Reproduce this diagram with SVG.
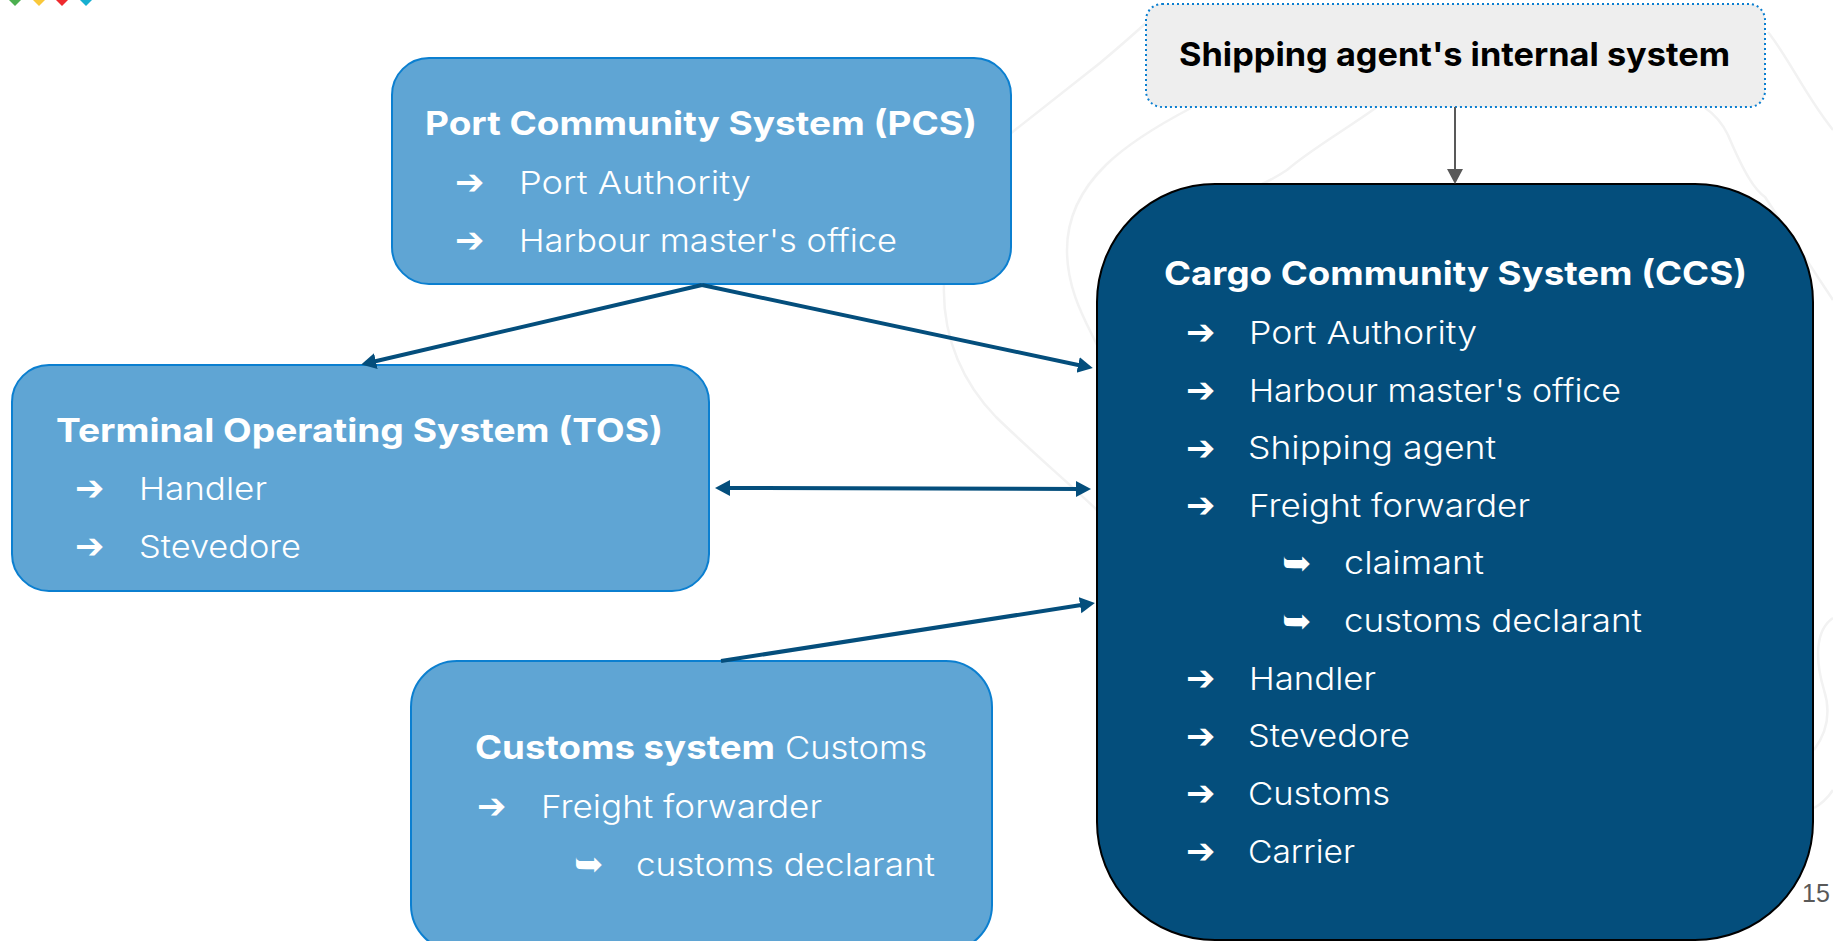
<svg xmlns="http://www.w3.org/2000/svg" width="1833" height="941" viewBox="0 0 1833 941">
<style>
text{font-family:"Inter","Open Sans","Liberation Sans",sans-serif;fill:#fff}
.t{font-size:33px;font-weight:700}
.i{font-size:31.500px;font-weight:300}
.a{font-family:"DejaVu Sans",sans-serif;font-size:35px}
.b{fill:#5fa5d4;stroke:#0b7fd0;stroke-width:2}
.sw{fill:none;stroke:#f2f2f2;stroke-width:2.500}
.c{fill:none;stroke:#044e7c;stroke-width:4}
</style>
<defs>
<marker id="hb" markerUnits="userSpaceOnUse" markerWidth="18" markerHeight="18" refX="6" refY="9" orient="auto-start-reverse"><path d="M0 1 15 9 0 17z" fill="#044e7c"/></marker>
<marker id="hg" markerUnits="userSpaceOnUse" markerWidth="18" markerHeight="18" refX="7" refY="9" orient="auto"><path d="M0 1 15 9 0 17z" fill="#595959"/></marker>
</defs>
<rect width="1833" height="941" fill="#fff"/>
<g id="logo">
<path d="M9 0H21L15 6z" fill="#4caf50"/><path d="M33 0H45L39 6z" fill="#f9c83a"/><path d="M56 0H68L62 6z" fill="#ee2a2e"/><path d="M80 0H92L86 6z" fill="#17afd0"/>
</g>
<g id="background">
<path class="sw" d="M1010 134 1100 63Q1125 42 1146 23"/>
<path class="sw" d="M1191 108C1130 140 1067 180 1067 250C1067 290 1085 320 1097 345"/>
<path class="sw" d="M1377 107C1345 130 1310 150 1287 170Q1275 178 1262 184"/>
<path class="sw" d="M1704 107Q1720 118 1728 135C1745 175 1755 190 1765 197L1833 300"/>
<path class="sw" d="M1768 32C1790 60 1805 95 1833 130"/>
<path class="sw" d="M944 284C942 340 965 385 996 417C1030 450 1065 480 1097 510"/>
<path class="sw" d="M1833 618C1815 630 1815 660 1824 690C1832 715 1825 735 1814 750"/>
<path class="sw" d="M1833 790Q1825 802 1814 808"/>
</g>
<g id="pcs">
<rect class="b" x="392" y="58" width="619" height="226" rx="37"/>
<text class="t" x="425" y="135" textLength="552" lengthAdjust="spacingAndGlyphs">Port Community System (PCS)</text>
<text class="a" x="455" y="194">➔</text><text class="i" x="519" y="194" textLength="232" lengthAdjust="spacingAndGlyphs">Port Authority</text>
<text class="a" x="455" y="252">➔</text><text class="i" x="519" y="252" textLength="378" lengthAdjust="spacingAndGlyphs">Harbour master's office</text>
</g>
<g id="tos">
<rect class="b" x="12" y="365" width="697" height="226" rx="37"/>
<text class="t" x="56" y="442" textLength="607" lengthAdjust="spacingAndGlyphs">Terminal Operating System (TOS)</text>
<text class="a" x="75" y="500">➔</text><text class="i" x="139" y="500" textLength="128" lengthAdjust="spacingAndGlyphs">Handler</text>
<text class="a" x="75" y="558">➔</text><text class="i" x="139" y="558" textLength="162" lengthAdjust="spacingAndGlyphs">Stevedore</text>
</g>
<g id="customs">
<rect class="b" x="411" y="661" width="581" height="290" rx="46"/>
<text class="t" x="475" y="759" textLength="300" lengthAdjust="spacingAndGlyphs">Customs system</text>
<text class="i" x="785" y="759" textLength="142" lengthAdjust="spacingAndGlyphs">Customs</text>
<text class="a" x="477" y="818">➔</text><text class="i" x="541" y="818" textLength="281" lengthAdjust="spacingAndGlyphs">Freight forwarder</text>
<text class="a" x="574" y="876">➥</text><text class="i" x="636" y="876" textLength="299" lengthAdjust="spacingAndGlyphs">customs declarant</text>
</g>
<g id="shipping">
<rect x="1146" y="4" width="619" height="103" rx="16" fill="#eee" stroke="#0b7fd0" stroke-width="2" stroke-dasharray="2 3"/>
<text class="t" style="fill:#000" x="1179" y="66" textLength="551" lengthAdjust="spacingAndGlyphs">Shipping agent's internal system</text>
</g>
<g id="ccs">
<rect x="1097" y="184" width="716" height="756" rx="118" fill="#044e7c" stroke="#000" stroke-width="2"/>
<text class="t" x="1164" y="285" textLength="583" lengthAdjust="spacingAndGlyphs">Cargo Community System (CCS)</text>
<text class="a" x="1186" y="344">➔</text><text class="i" x="1249" y="344" textLength="228" lengthAdjust="spacingAndGlyphs">Port Authority</text>
<text class="a" x="1186" y="402">➔</text><text class="i" x="1249" y="402" textLength="372" lengthAdjust="spacingAndGlyphs">Harbour master's office</text>
<text class="a" x="1186" y="460">➔</text><text class="i" x="1248" y="459" textLength="248" lengthAdjust="spacingAndGlyphs">Shipping agent</text>
<text class="a" x="1186" y="517">➔</text><text class="i" x="1249" y="517" textLength="281" lengthAdjust="spacingAndGlyphs">Freight forwarder</text>
<text class="a" x="1282" y="575">➥</text><text class="i" x="1344" y="574" textLength="140" lengthAdjust="spacingAndGlyphs">claimant</text>
<text class="a" x="1282" y="633">➥</text><text class="i" x="1344" y="632" textLength="298" lengthAdjust="spacingAndGlyphs">customs declarant</text>
<text class="a" x="1186" y="690">➔</text><text class="i" x="1249" y="690" textLength="127" lengthAdjust="spacingAndGlyphs">Handler</text>
<text class="a" x="1186" y="748">➔</text><text class="i" x="1248" y="747" textLength="162" lengthAdjust="spacingAndGlyphs">Stevedore</text>
<text class="a" x="1186" y="805">➔</text><text class="i" x="1248" y="805" textLength="142" lengthAdjust="spacingAndGlyphs">Customs</text>
<text class="a" x="1186" y="863">➔</text><text class="i" x="1248" y="863" textLength="107" lengthAdjust="spacingAndGlyphs">Carrier</text>
</g>
<g id="connectors">
<path class="c" d="M702 285 370 362.500" marker-end="url(#hb)"/>
<path class="c" d="M702 285 1084 366.200" marker-end="url(#hb)"/>
<path class="c" d="M724 488 1082 489" marker-start="url(#hb)" marker-end="url(#hb)"/>
<path class="c" d="M721 661 1086 604.300" marker-end="url(#hb)"/>
<path d="M1455 107V176" fill="none" stroke="#595959" stroke-width="2" marker-end="url(#hg)"/>
</g>
<text id="page" x="1802" y="902" style="font-family:'Liberation Sans',sans-serif;font-size:25px;fill:#595959">15</text>
</svg>
